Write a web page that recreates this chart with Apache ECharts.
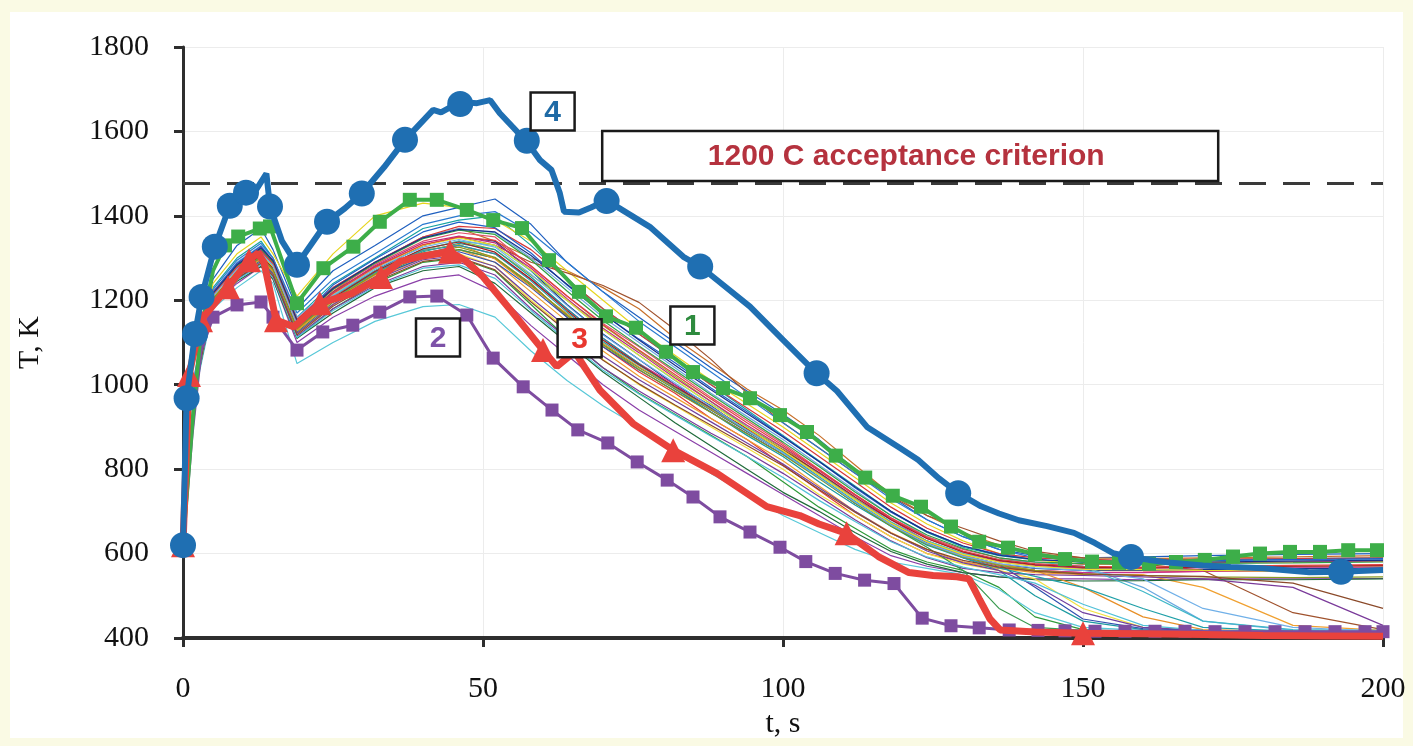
<!DOCTYPE html>
<html>
<head>
<meta charset="utf-8">
<script src="https://cdn.jsdelivr.net/npm/echarts@6/dist/echarts.min.js"></script>
<style>
  html, body { margin: 0; padding: 0; background: #fafae4; }
  #paper { position: absolute; left: 10px; top: 12px; width: 1393px; height: 726px; background: #fff; }
  #chart { position: absolute; left: 0; top: 0; width: 1413px; height: 746px; }
</style>
</head>
<body>
<div id="paper"></div>
<div id="chart"></div>
<script>
// time grid (s) shared by the thin ensemble runs
const tGrid = [0,2,5,9,13,15,19,25,32,40,46,52,58,64,70,76,82,88,94,100,106,112,118,124,130,136,142,150,160,170,185,200];

// ensemble runs, T (K) at each tGrid point
const runA = [620,1030,1250,1330,1370, 1320,1180,1270,1330,1400, 1420,1440,1380,1290,1220, 1160,1100,1040,985,930, 870,800,735,680,640, 610,595,590,592,595, 598,600];
const runB = [620,1010,1230,1300,1340, 1300,1160,1240,1300,1370, 1390,1400,1330,1250,1180, 1120,1060,1000,940,880, 820,760,700,650,615, 595,585,580,582,585, 588,590];
const runC = [620,1000,1210,1280,1320, 1290,1150,1220,1290,1350, 1370,1340,1300,1270,1230, 1180,1110,1050,990,940, 880,810,740,690,650, 620,600,590,588,590, 592,595];
const runD = [620,1020,1240,1310,1350, 1310,1210,1310,1400,1430, 1420,1390,1340,1270,1200, 1130,1070,1010,955,900, 840,780,720,670,630, 600,585,575,575,580, 580,582];
const runE = [620,990,1200,1270,1300, 1270,1130,1210,1270,1330, 1350,1340,1270,1190,1120, 1060,1000,950,890,840, 780,720,670,625,595, 575,565,560,560,562, 565,565];
const runF = [620,1000,1210,1270,1310, 1280,1120,1190,1250,1300, 1320,1300,1240,1160,1090, 1030,980,920,870,810, 750,690,640,600,580, 565,560,555,556,558, 560,560];
const runG = [620,990,1190,1250,1290, 1260,1110,1180,1240,1290, 1300,1270,1190,1110,1040, 980,930,880,830,770, 710,660,610,580,560, 520,450,420,415,414, 413,412];
const runH = [620,1000,1200,1260,1300, 1270,1140,1200,1260,1310, 1330,1310,1250,1180,1110, 1050,1000,940,890,840, 790,730,680,630,590, 570,560,555,555,558, 558,560];
const runI = [620,980,1180,1230,1270, 1240,1050,1100,1150,1185, 1190,1160,1080,1010,950, 900,850,790,740,690, 650,610,580,565,550, 515,460,425,418,415, 414,413];
const runJ = [620,990,1190,1240,1280, 1250,1100,1160,1210,1250, 1260,1220,1140,1070,1000, 940,890,840,790,740, 690,640,595,570,555, 545,540,540,538,540, 540,541];
const runK = [620,1005,1220,1290,1330, 1300,1160,1230,1290,1350, 1370,1360,1300,1230,1160, 1100,1040,980,925,870, 810,750,690,640,605, 585,575,570,520,440, 418,415];
const runL = [620,995,1205,1270,1310, 1280,1140,1210,1270,1320, 1340,1320,1260,1200,1140, 1080,1020,960,900,850, 790,730,675,630,600, 580,570,565,566,568, 570,570];
const runM = [620,1000,1210,1275,1315, 1285,1150,1220,1280,1330, 1350,1330,1290,1265,1235, 1195,1130,1060,980,910, 850,790,735,690,660, 630,605,590,575,560, 460,420];
const runN = [620,1010,1225,1295,1335, 1300,1170,1250,1310,1380, 1400,1410,1360,1290,1220, 1150,1090,1030,970,910, 850,790,730,680,640, 610,590,585,580,583, 585,585];
const runO = [620,995,1200,1260,1300, 1270,1130,1200,1260,1310, 1320,1290,1220,1150,1080, 1020,970,920,870,820, 760,700,650,610,580, 565,555,550,550,520, 430,418];
const runP = [620,985,1190,1245,1280, 1250,1110,1170,1230,1270, 1280,1240,1170,1100,1030, 970,910,855,800,745, 700,650,605,575,555, 545,538,535,536,538, 538,540];
const runQ = [620,1000,1210,1270,1305, 1275,1135,1205,1265,1315, 1335,1320,1255,1180,1110, 1050,990,935,880,830, 770,715,665,620,590, 560,500,440,420,417, 416,415];
const runR = [620,1005,1215,1280,1320, 1290,1150,1225,1285,1340, 1360,1350,1280,1210,1145, 1090,1030,970,915,860, 800,740,685,640,610, 590,580,575,576,578, 580,582];
const runS = [620,990,1195,1255,1290, 1260,1120,1190,1250,1300, 1310,1280,1200,1130,1060, 1000,950,900,850,800, 740,690,640,600,575, 560,540,470,425,418, 416,415];
const runT = [620,1000,1205,1265,1300, 1275,1135,1200,1255,1300, 1315,1290,1230,1160,1090, 1035,985,935,885,835, 780,720,670,625,595, 575,520,445,422,418, 416,415];
const runU = [620,995,1195,1250,1285, 1255,1115,1180,1235,1280, 1290,1260,1180,1110,1040, 985,935,885,840,790, 735,680,630,590,565, 555,550,548,545,540, 520,430];
const runV = [620,1000,1210,1275,1310, 1285,1140,1210,1270,1320, 1340,1330,1270,1200,1130, 1070,1010,955,900,845, 790,730,675,630,600, 585,580,570,510,440, 420,418];
const runW = [620,1005,1220,1285,1325, 1295,1155,1230,1290,1350, 1375,1370,1320,1250,1180, 1120,1060,1000,945,890, 830,770,710,660,625, 600,590,585,585,587, 588,590];
const runX = [620,995,1200,1260,1295, 1265,1125,1195,1255,1305, 1320,1300,1235,1165,1095, 1040,990,940,890,840, 780,720,665,615,560, 470,425,418,415,414, 414,413];
const runY = [620,1008,1218,1288,1328, 1292,1148,1236,1298,1362, 1385,1372,1312,1236,1168, 1108,1052,992,936,878, 818,756,698,652,618, 598,586,580,580,584, 586,588];
const runZ = [620,992,1202,1262,1298, 1268,1128,1198,1262,1318, 1332,1298,1232,1168,1098, 1042,992,942,892,842, 786,728,672,628,596, 575,560,520,450,420, 416,414];
const runA2 = [620,1002,1212,1276,1318, 1288,1146,1218,1282,1336, 1352,1336,1276,1204,1134, 1076,1016,960,904,852, 796,738,682,636,604, 582,572,566,566,566, 568,568];
const runB2 = [620,996,1204,1266,1304, 1274,1134,1204,1266,1318, 1330,1310,1246,1172,1102, 1046,994,944,892,840, 782,724,668,622,590, 566,546,520,470,425, 416,414];
const runC2 = [620,1004,1214,1282,1322, 1290,1150,1226,1288,1346, 1366,1356,1296,1222,1152, 1092,1034,976,920,864, 806,746,690,644,612, 590,580,576,575,577, 578,580];
const runD2 = [620,998,1206,1268,1306, 1276,1138,1206,1268,1322, 1338,1314,1250,1176,1106, 1048,996,946,896,846, 792,734,680,636,604, 584,574,568,566,568, 570,572];
const runE2 = [620,1000,1208,1272,1310, 1280,1142,1214,1276,1330, 1348,1330,1272,1200,1130, 1070,1012,954,898,844, 786,728,672,628,598, 580,570,562,562,560, 558,560];
const runF2 = [620,994,1198,1256,1292, 1262,1122,1190,1248,1296, 1306,1280,1206,1136,1068, 1012,962,912,862,812, 756,700,648,606,578, 560,525,460,425,418, 415,414];
const runG2 = [620,1006,1216,1284,1324, 1294,1152,1228,1290,1348, 1368,1362,1306,1238,1168, 1106,1046,988,932,876, 818,758,700,652,618, 596,586,580,578,580, 582,584];
const runH2 = [620,988,1192,1248,1284, 1254,1112,1176,1232,1276, 1284,1252,1176,1104,1034, 978,928,878,830,780, 726,676,628,592,568, 550,530,480,430,418, 415,413];
const runI2 = [620,1002,1212,1278,1316, 1286,1144,1216,1278,1332, 1350,1342,1282,1210,1142, 1082,1024,966,910,856, 798,740,684,638,606, 586,576,570,568,570, 572,574];
const runJ2 = [620,996,1204,1266,1302, 1272,1132,1202,1262,1312, 1326,1302,1238,1164,1094, 1036,984,934,884,834, 778,720,666,622,592, 572,560,552,548,545, 543,545];
const runK2 = [620,1000,1210,1274,1312, 1282,1142,1212,1274,1326, 1344,1326,1262,1188,1118, 1060,1004,948,892,838, 780,722,668,624,594, 576,566,560,540,470, 425,416];
const runL2 = [620,990,1196,1252,1288, 1258,1118,1186,1244,1292, 1302,1272,1196,1126,1058, 1002,952,904,856,808, 752,698,648,610,584, 568,558,552,548,546, 530,470];

const runs = [runA,runB,runC,runD,runE,runF,runG,runH,runI,runJ,runK,runL,runM,runN,runO,runP,runQ,runR,runS,runT,runU,runV,runW,runX,
              runY,runZ,runA2,runB2,runC2,runD2,runE2,runF2,runG2,runH2,runI2,runJ2,runK2,runL2];
const runColors = ['#1f5fbf','#17a2a2','#c8702a','#e6d51f','#1b3a8c','#e03a3a','#2f9a3a','#c8308f','#58c8d8','#8a3fa8','#6aa8e0','#9ab82a',
                   '#a0522d','#2a7ad0','#f0a030','#1f6b3a','#1a9aa0','#e0506a','#f2e040','#3050b0','#7a3a9a','#40b8c8','#d83838','#3a9a50',
                   '#2060c8','#e89028','#c02880','#20a0a8','#30a040','#a02020','#e8e030','#7040a0','#18308a','#50c0d8','#e04040','#8a9a20',
                   '#70b0e8','#8b4a2a'];

// highlighted cases [t, T]
const curve1 = [[0,620],[1.5,900],[3,1130],[5,1270],[7,1330],[9.2,1351],[12.8,1370],[14.5,1375],[19,1193],[23.4,1276],[28.4,1327],[32.8,1386],
  [37.8,1438],[42.3,1438],[47.3,1414],[51.7,1390],[56.5,1371],[61,1295],[66,1220],[70.5,1162],[75.5,1135],[80.5,1078],[85,1030],[90,992],
  [94.5,968],[99.5,928],[104,888],[108.8,832],[113.7,780],[118.3,737],[123,711],[128,664],[132.7,628],[137.5,614],[142,599],[147,587],
  [151.5,581],[156,578],[161,576],[165.5,580],[170.3,585],[175,593],[179.5,600],[184.5,604],[189.5,604],[194.2,608],[199,608]];
const curve2 = [[0,620],[1.5,880],[3,1080],[5,1160],[9,1189],[13,1196],[15,1160],[19,1082],[23.3,1125],[28.3,1141],[32.8,1172],[37.8,1208],
  [42.3,1210],[47.3,1165],[51.7,1063],[56.7,995],[61.5,940],[65.8,893],[70.8,862],[75.7,817],[80.7,774],[85,734],[89.5,687],[94.5,651],
  [99.5,615],[103.8,581],[108.7,553],[113.6,537],[118.5,529],[123.2,447],[128,429],[132.7,424],[137.7,419],[142.5,418],[147,417],[152,416],
  [157,416],[162,416],[167,416],[172,415],[177,415],[182,415],[187,415],[192,415],[197,415],[200,415]];
const curve3 = [[0,620],[1,1023],[3,1153],[7.5,1231],[11,1295],[12.5,1312],[13.5,1290],[15.5,1153],[18.5,1137],[22.8,1193],[28,1215],[33,1255],
  [36.2,1292],[40,1305],[44.5,1315],[47,1295],[50,1256],[55,1170],[60,1082],[62.3,1043],[65.3,1078],[67,1040],[69.5,987],[75,908],[81.7,845],
  [89,790],[97.3,711],[102.8,690],[106,670],[110.6,648],[115.9,593],[121,555],[125,548],[129,545],[131,540],[132.8,490],[134.5,445],[136.2,419],
  [142,414],[150,411],[160,410],[170,408],[180,406],[190,405],[200,404]];
const curve3Marks = [[0,620],[1,1023],[3,1153],[7.5,1231],[11,1295],[15.5,1153],[22.8,1193],[33,1255],[44.5,1315],[60,1082],[81.7,845],[110.6,648],[150,411]];
const curve4 = [[0,620],[0.6,968],[2,1120],[3.1,1208],[5.3,1327],[7.8,1424],[10.5,1455],[12.2,1462],[13.9,1500],[14.5,1422],[16.5,1340],[19,1284],
  [21.5,1335],[24,1386],[27,1418],[29.8,1453],[33.5,1515],[37,1580],[41.7,1651],[43,1645],[46.2,1670],[49,1667],[51.2,1674],[52.8,1643],
  [55,1610],[57.3,1575],[59.5,1532],[61.4,1509],[62.8,1454],[63.5,1410],[66,1408],[68,1420],[70.6,1437],[72.3,1422],[77.8,1374],[83.4,1303],
  [86.2,1280],[89,1248],[94.5,1185],[100,1106],[105.6,1027],[109,985],[114,900],[119.5,850],[122.5,822],[126,778],[129.2,743],[133,712],
  [136,695],[139.3,679],[144,665],[148.5,649],[152,625],[155,601],[158,592],[161,585],[164.8,578],[170,572],[174.6,568],[180,565],
  [187.7,556],[193,557],[200,561]];
const curve4Marks = [[0,620],[0.6,968],[2,1120],[3.1,1208],[5.3,1327],[7.8,1424],[10.5,1455],[14.5,1422],[19,1284],[24,1386],[29.8,1453],
  [37,1580],[46.2,1665],[57.3,1578],[70.6,1435],[86.2,1280],[105.6,1027],[129.2,743],[158,592],[193,557]];

const criterionK = 1478;
const critText = '1200 C acceptance criterion';
const tags = [
  { text: '4', at: [61.6, 1647], color: '#1f6aa5' },
  { text: '1', at: [84.9, 1140], color: '#2e8b3e' },
  { text: '2', at: [42.5, 1112], color: '#7d52a8' },
  { text: '3', at: [66.1, 1110], color: '#e8372f' }
];
const critAt = [121.2, 1542];

const serif = '"Liberation Serif", "DejaVu Serif", serif';
const sans = '"Liberation Sans", Arial, sans-serif';
const ink = '#2e2e2e';

const chart = echarts.init(document.getElementById('chart'));

const series = runs.map((r, k) => ({
  type: 'line',
  data: tGrid.map((t, i) => [t, r[i]]),
  showSymbol: false,
  symbol: 'none',
  silent: true,
  z: 2,
  lineStyle: { width: 1.2, color: runColors[k] }
}));

series.push({
  type: 'line', data: [], z: 3, silent: true,
  markLine: {
    silent: true, symbol: ['none', 'none'], label: { show: false },
    lineStyle: { type: [27, 17], width: 3, color: '#3a3a3a' },
    data: [{ yAxis: criterionK }]
  }
});

series.push({
  type: 'line', z: 4,
  data: curve2.map((p, i) => i < 3 ? { value: p, symbol: 'none' } : p),
  symbol: 'rect', symbolSize: 13, showAllSymbol: true,
  lineStyle: { width: 3, color: '#7e4ca0' },
  itemStyle: { color: '#7e4ca0', opacity: 1 }
});
series.push({
  type: 'line', z: 5,
  data: curve1.map((p, i) => i < 4 ? { value: p, symbol: 'none' } : p),
  symbol: 'rect', symbolSize: 14, showAllSymbol: true,
  lineStyle: { width: 4, color: '#3dae49' },
  itemStyle: { color: '#3dae49', opacity: 1 }
});
series.push({
  type: 'line', z: 6, data: curve3, symbol: 'none',
  lineStyle: { width: 7, color: '#e9423c' }
});
series.push({
  type: 'scatter', z: 6, data: curve3Marks, symbol: 'triangle', symbolSize: 24,
  itemStyle: { color: '#e9423c', opacity: 1 }
});
series.push({
  type: 'line', z: 7, data: curve4, symbol: 'none',
  lineStyle: { width: 6, color: '#1f6fb2' }
});
series.push({
  type: 'scatter', z: 7, data: curve4Marks, symbol: 'circle', symbolSize: 26,
  itemStyle: { color: '#1f6fb2', opacity: 1 }
});

const option = {
  animation: false,
  backgroundColor: 'transparent',
  grid: { left: 183, right: 30, top: 47, bottom: 108 },
  xAxis: {
    type: 'value', min: 0, max: 200, interval: 50,
    name: 't, s', nameLocation: 'middle', nameGap: 68,
    nameTextStyle: { fontFamily: serif, fontSize: 30, color: '#111' },
    axisLine: { show: true, lineStyle: { color: ink, width: 4 } },
    axisTick: { show: true, length: 9, lineStyle: { color: ink, width: 3 } },
    axisLabel: { fontFamily: serif, fontSize: 30, color: '#111', margin: 36, formatter: v => String(v) },
    splitLine: { show: true, lineStyle: { color: '#ececec', width: 1 } }
  },
  yAxis: {
    type: 'value', min: 400, max: 1800, interval: 200,
    name: 'T, K', nameLocation: 'middle', nameGap: 138,
    nameTextStyle: { fontFamily: serif, fontSize: 30, color: '#111' },
    axisLine: { show: true, lineStyle: { color: ink, width: 3 } },
    axisTick: { show: true, length: 9, lineStyle: { color: ink, width: 3 } },
    axisLabel: { fontFamily: serif, fontSize: 30, color: '#111', margin: 34, formatter: v => String(v) },
    splitLine: { show: true, lineStyle: { color: '#ececec', width: 1 } }
  },
  series: series
};

chart.setOption(option);

// annotation boxes anchored in data space
const graphics = [];
tags.forEach(tag => {
  const c = chart.convertToPixel({ gridIndex: 0 }, tag.at);
  graphics.push({ type: 'rect', z: 50, shape: { x: c[0] - 22, y: c[1] - 19, width: 44, height: 38 },
    style: { fill: '#fff', stroke: '#1a1a1a', lineWidth: 2.5 } });
  graphics.push({ type: 'text', z: 51, x: c[0], y: c[1] + 1,
    style: { text: tag.text, fill: tag.color, font: 'bold 30px ' + sans, align: 'center', verticalAlign: 'middle' } });
});
const cc = chart.convertToPixel({ gridIndex: 0 }, critAt);
graphics.push({ type: 'rect', z: 50, shape: { x: cc[0] - 308, y: cc[1] - 25, width: 616, height: 50 },
  style: { fill: '#fff', stroke: '#1a1a1a', lineWidth: 2.5 } });
graphics.push({ type: 'text', z: 51, x: cc[0] - 4, y: cc[1] + 1,
  style: { text: critText, fill: '#b5323e', font: 'bold 30px ' + sans, align: 'center', verticalAlign: 'middle' } });

chart.setOption({ graphic: graphics });
</script>
</body>
</html>
